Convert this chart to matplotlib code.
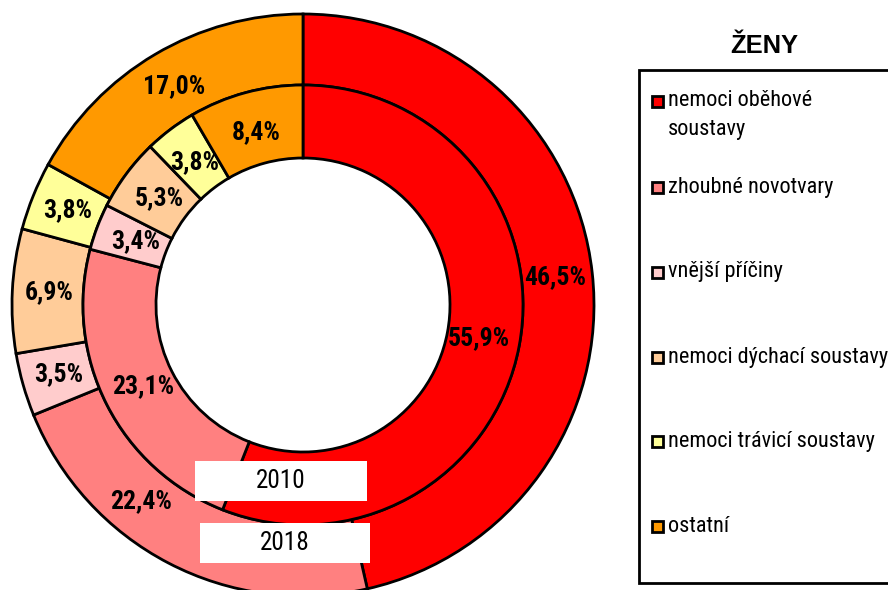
import numpy as np
import matplotlib.pyplot as plt
from matplotlib import font_manager as fm
from matplotlib.patches import Rectangle
from matplotlib.textpath import TextToPath

# Data
categories = ['nemoci oběhové', 'zhoubné novotvary', 'vnější příčiny',
              'nemoci dýchací soustavy', 'nemoci trávicí soustavy', 'ostatní']
cat_line2 = ['soustavy', '', '', '', '', '']
values_2018 = [46.5, 22.4, 3.5, 6.9, 3.8, 17.0]   # outer ring
values_2010 = [55.9, 23.1, 3.4, 5.3, 3.8, 8.4]    # inner ring
labels_2018 = ['46,5%', '22,4%', '3,5%', '6,9%', '3,8%', '17,0%']
labels_2010 = ['55,9%', '23,1%', '3,4%', '5,3%', '3,8%', '8,4%']
colors = ['#FF0000', '#FF8080', '#FFCCCC', '#FFCC99', '#FFFF99', '#FF9900']

# where along each wedge (clockwise, 0 = start) the label sits
pos_2018 = [0.5, 0.65, 0.5, 0.5, 0.5, 0.5]
pos_2010 = [0.5, 0.5, 0.5, 0.5, 0.5, 0.5]

# fonts: the original uses a narrow Arial; pick a condensed face that has a bold cut
def wnum(w):
    return w if isinstance(w, (int, float)) else fm.weight_dict.get(w, 400)

faces = {}
for f in fm.fontManager.ttflist:
    if f.style == 'normal':
        faces.setdefault(f.name, set()).add(wnum(f.weight))

prefer = ['Liberation Sans Narrow', 'Arial Narrow', 'Roboto Condensed',
          'Noto Sans Condensed', 'Open Sans Condensed', 'DejaVu Sans Condensed']
others = sorted(n for n in faces if ('Narrow' in n or 'Condensed' in n) and n not in prefer)
font = 'Liberation Sans'
bold_font = 'Liberation Sans'
for n in prefer + others:
    if n in faces and min(faces[n]) <= 450:
        font = n
        if max(faces[n]) >= 600:
            bold_font = n
        break
plt.rcParams['font.family'] = [font, 'DejaVu Sans']

t2p = TextToPath()

def fit(s, px, family, weight='normal'):
    # font size (pt) that makes s about px pixels wide at 100 dpi
    prop = fm.FontProperties(family=family, weight=weight, size=10)
    w = t2p.get_text_width_height_descent(s, prop, ismath=False)[0]
    return 10 * px / (w * 100 / 72)

fs_lab = fit('46,5%', 62, bold_font, 'bold')
fs_leg = fit('zhoubné novotvary', 165, font)
fs_year = fit('2010', 50, font)
fs_title = fit('ŽENY', 68, 'Liberation Sans', 'bold')

W, H = 888, 590
fig = plt.figure(figsize=(W / 100, H / 100), dpi=100)
ax = fig.add_axes([0, 0, 1, 1])

cx, cy = 303, H - 305
r_out, r_mid, r_in = 291, 220, 147
edge = dict(edgecolor='black', linewidth=2.0)

outer, _ = ax.pie(values_2018, colors=colors, radius=r_out, center=(cx, cy),
                  startangle=90, counterclock=False,
                  wedgeprops=dict(width=r_out - r_mid, **edge))
inner, _ = ax.pie(values_2010, colors=colors, radius=r_mid, center=(cx, cy),
                  startangle=90, counterclock=False,
                  wedgeprops=dict(width=r_mid - r_in, **edge))

def put_labels(wedges, labels, pos, r):
    # clockwise wedges: theta2 is where the wedge starts
    for w, lab, p in zip(wedges, labels, pos):
        a = np.deg2rad(w.theta2 - p * (w.theta2 - w.theta1))
        ax.text(cx + r * np.cos(a), cy + r * np.sin(a), lab, ha='center', va='center',
                fontsize=fs_lab, fontweight='bold', color='black',
                family=[bold_font, 'DejaVu Sans'])

put_labels(outer, labels_2018, pos_2018, 254)
put_labels(inner, labels_2010, pos_2010, 179)

# year boxes
for x0, y0, w, h, txt in [(195, 461, 172, 40, '2010'), (200, 523, 170, 40, '2018')]:
    ax.add_patch(Rectangle((x0, H - y0 - h), w, h, facecolor='white', edgecolor='none', zorder=5))
    ax.text(x0 + w / 2, H - y0 - h / 2, txt, ha='center', va='center',
            fontsize=fs_year, zorder=6)

# title
ax.text(764, H - 46, 'ŽENY', ha='center', va='center', fontsize=fs_title,
        fontweight='bold', family=['Liberation Sans', 'DejaVu Sans'])

# legend (drawn by hand to keep the Excel layout)
ax.add_patch(Rectangle((639, H - 583), 300, 513, facecolor='white',
                       edgecolor='black', linewidth=2.0, zorder=3))
entry_y = [101, 187, 272, 357, 441, 526]
for c, lab, lab2, y in zip(colors, categories, cat_line2, entry_y):
    ax.add_patch(Rectangle((652, H - y - 6), 11, 11, facecolor=c,
                           edgecolor='black', linewidth=2.0, zorder=4))
    ax.text(668, H - y, lab, ha='left', va='center', fontsize=fs_leg, zorder=4)
    if lab2:
        ax.text(668, H - y - 29, lab2, ha='left', va='center', fontsize=fs_leg, zorder=4)

ax.set_xlim(0, W)
ax.set_ylim(0, H)
ax.set_aspect('equal')
ax.axis('off')

fig.savefig('out.png', dpi=100)
